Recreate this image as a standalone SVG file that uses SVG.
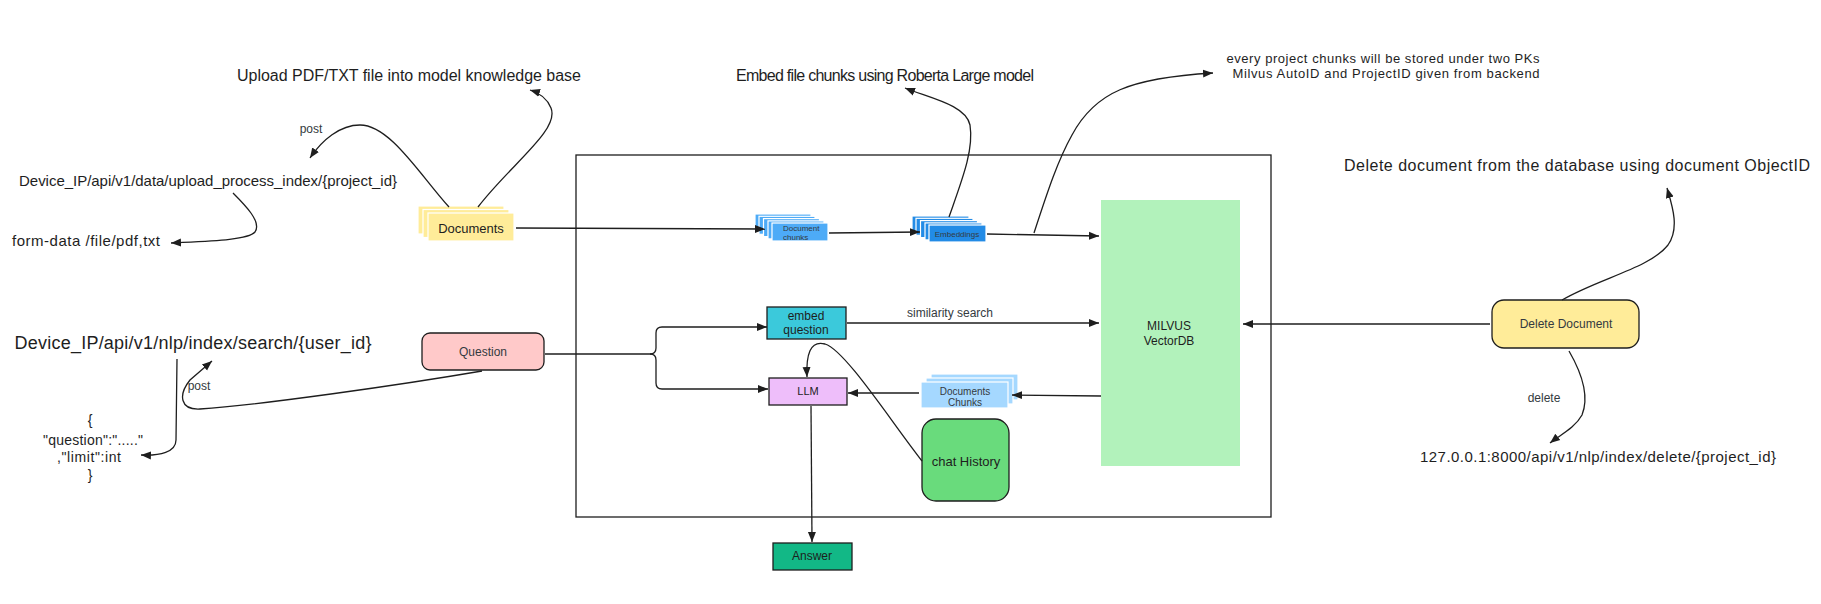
<svg xmlns="http://www.w3.org/2000/svg" width="1821" height="604" viewBox="0 0 1821 604">
<style>
text{font-family:"Liberation Sans","DejaVu Sans",sans-serif;fill:#1e1e1e;dominant-baseline:central;text-anchor:middle}
.box{stroke:#1e1e1e;stroke-width:1.3}
.stk{stroke:#ffffff;stroke-width:1.2}
.ln{fill:none;stroke:#1e1e1e;stroke-width:1.3}
.ar{marker-end:url(#ah)}
.lbl{fill:#343a40}
</style>
<defs>
<marker id="ah" markerUnits="userSpaceOnUse" markerWidth="11" markerHeight="10" refX="10" refY="5" orient="auto">
<path d="M0,1 L10,5 L0,9 z" fill="#1e1e1e"/>
</marker>
</defs>
<rect width="1821" height="604" fill="#ffffff"/>

<g id="frame"><rect x="576" y="155" width="695" height="362" fill="none" stroke="#1e1e1e" stroke-width="1.3"/></g>

<g id="annotations">
<text x="409" y="75" font-size="16" textLength="344">Upload PDF/TXT file into model knowledge base</text>
<text x="885" y="75" font-size="16" textLength="298">Embed file chunks using Roberta Large model</text>
<text x="1383" y="58" font-size="13" textLength="313">every project chunks will be stored under two PKs</text>
<text x="1386" y="73" font-size="13" textLength="307">Milvus AutoID and ProjectID given from backend</text>
<text x="1577" y="165" font-size="16" textLength="466">Delete document from the database using document ObjectID</text>
<text x="208" y="180" font-size="15" textLength="378">Device_IP/api/v1/data/upload_process_index/{project_id}</text>
<text x="86" y="240" font-size="15" textLength="148">form-data /file/pdf,txt</text>
<text x="311" y="129" font-size="12" class="lbl">post</text>
<text x="193" y="343" font-size="18" textLength="357">Device_IP/api/v1/nlp/index/search/{user_id}</text>
<text x="90" y="420" font-size="14">{</text>
<text x="93" y="440" font-size="14" textLength="100">"question":"....."</text>
<text x="89" y="457" font-size="14" textLength="64">,"limit":int</text>
<text x="90" y="475" font-size="14">}</text>
<text x="199" y="386" font-size="12" class="lbl">post</text>
<text x="1598" y="456" font-size="15" textLength="356">127.0.0.1:8000/api/v1/nlp/index/delete/{project_id}</text>
<text x="1544" y="398" font-size="12" class="lbl">delete</text>
<text x="950" y="313" font-size="12" class="lbl">similarity search</text>
</g>

<g id="documents">
<rect x="418" y="206" width="86" height="28" fill="#ffec99" class="stk"/>
<rect x="423" y="209.5" width="86" height="28" fill="#ffec99" class="stk"/>
<rect x="428" y="213" width="86" height="28" fill="#ffec99" class="stk"/>
<text x="471" y="228" font-size="13">Documents</text>
</g>

<g id="document-chunks">
<rect x="755" y="214" width="56" height="18" fill="#4dabf7" class="stk"/>
<rect x="759" y="216.3" width="56" height="18" fill="#4dabf7" class="stk"/>
<rect x="763.5" y="218.6" width="56" height="18" fill="#4dabf7" class="stk"/>
<rect x="768" y="220.9" width="56" height="18" fill="#4dabf7" class="stk"/>
<rect x="772" y="223" width="56" height="18" fill="#4dabf7" class="stk"/>
<text x="783" y="228.5" font-size="8" class="lbl" style="text-anchor:start">Document</text>
<text x="783" y="237.5" font-size="8" class="lbl" style="text-anchor:start">chunks</text>
</g>

<g id="embeddings">
<rect x="912" y="216" width="57" height="17" fill="#228be6" class="stk"/>
<rect x="916" y="218.3" width="57" height="17" fill="#228be6" class="stk"/>
<rect x="920.5" y="220.6" width="57" height="17" fill="#228be6" class="stk"/>
<rect x="925" y="222.9" width="57" height="17" fill="#228be6" class="stk"/>
<rect x="929" y="225" width="57" height="17" fill="#228be6" class="stk"/>
<text x="957" y="234" font-size="8" class="lbl">Embeddings</text>
</g>

<g id="milvus">
<rect x="1101" y="200" width="139" height="266" fill="#b2f2bb"/>
<text x="1169" y="326" font-size="12">MILVUS</text>
<text x="1169" y="341" font-size="12">VectorDB</text>
</g>

<g id="question">
<rect x="422" y="333" width="122" height="37" rx="8" fill="#ffc9c9" class="box"/>
<text x="483" y="352" font-size="12" class="lbl">Question</text>
</g>

<g id="embed-question">
<rect x="767" y="307" width="79" height="32" fill="#3bc9db" class="box"/>
<text x="806" y="316" font-size="12">embed</text>
<text x="806" y="330" font-size="12">question</text>
</g>

<g id="llm">
<rect x="769" y="378" width="78" height="27" fill="#eebefa" class="box"/>
<text x="808" y="391" font-size="11">LLM</text>
</g>

<g id="documents-chunks">
<rect x="931" y="374" width="87" height="26" fill="#a5d8ff" class="stk"/>
<rect x="926" y="378" width="87" height="26" fill="#a5d8ff" class="stk"/>
<rect x="921" y="382" width="87" height="26" fill="#a5d8ff" class="stk"/>
<text x="965" y="391" font-size="10" class="lbl">Documents</text>
<text x="965" y="402" font-size="10" class="lbl">Chunks</text>
</g>

<g id="chat-history">
<rect x="922" y="419" width="87" height="82" rx="14" fill="#69db7c" class="box"/>
<text x="966" y="461" font-size="13">chat History</text>
</g>

<g id="answer">
<rect x="773" y="543" width="79" height="27" fill="#12b886" class="box"/>
<text x="812" y="556" font-size="12">Answer</text>
</g>

<g id="delete-document">
<rect x="1492" y="300" width="147" height="48" rx="12" fill="#ffec99" class="box"/>
<text x="1566" y="324" font-size="12" class="lbl">Delete Document</text>
</g>

<g id="connectors">
<path class="ln ar" d="M516,228 L765,229"/>
<path class="ln ar" d="M829,233 L920,232"/>
<path class="ln ar" d="M987,234 L1099,236"/>
<path class="ln ar" d="M949,217 C962,180 974,150 970,125 C966,105 930,98 905,88"/>
<path class="ln ar" d="M1034,233 C1048,190 1058,160 1072,135 C1095,92 1130,78 1213,73"/>
<path class="ln ar" d="M478,207 C510,165 560,130 551,108 C547,98 540,93 530,90"/>
<path class="ln ar" d="M449,207 C420,175 390,125 360,125 C340,125 322,140 310,158"/>
<path class="ln ar" d="M233,193 C245,205 262,222 255,232 C248,240 210,241 171,243"/>
<path class="ln" d="M545,354 L650,354"/>
<path class="ln ar" d="M650,354 Q656,354 656,348 L656,333 Q656,327 662,327 L767,327"/>
<path class="ln ar" d="M650,354 Q656,354 656,360 L656,383 Q656,389 662,389 L768,389"/>
<path class="ln ar" d="M847,323 L1099,323"/>
<path class="ln ar" d="M1101,396 L1012,395"/>
<path class="ln ar" d="M919,393 L848,393"/>
<path class="ln ar" d="M922,461 C890,420 845,350 825,344 C810,340 806,355 807,377"/>
<path class="ln ar" d="M811,406 L812,542"/>
<path class="ln ar" d="M1490,324 L1243,324"/>
<path class="ln ar" d="M1562,300 C1600,278 1650,268 1668,245 C1680,228 1672,205 1667,188"/>
<path class="ln ar" d="M1569,351 C1580,370 1590,395 1582,415 C1575,428 1560,435 1550,443"/>
<path class="ln ar" d="M177,359 L176,440 C176,452 160,456 141,455"/>
<path class="ln ar" d="M482,371 C400,385 260,405 200,409 C180,410 178,395 190,380 L212,361"/>
</g>
</svg>
